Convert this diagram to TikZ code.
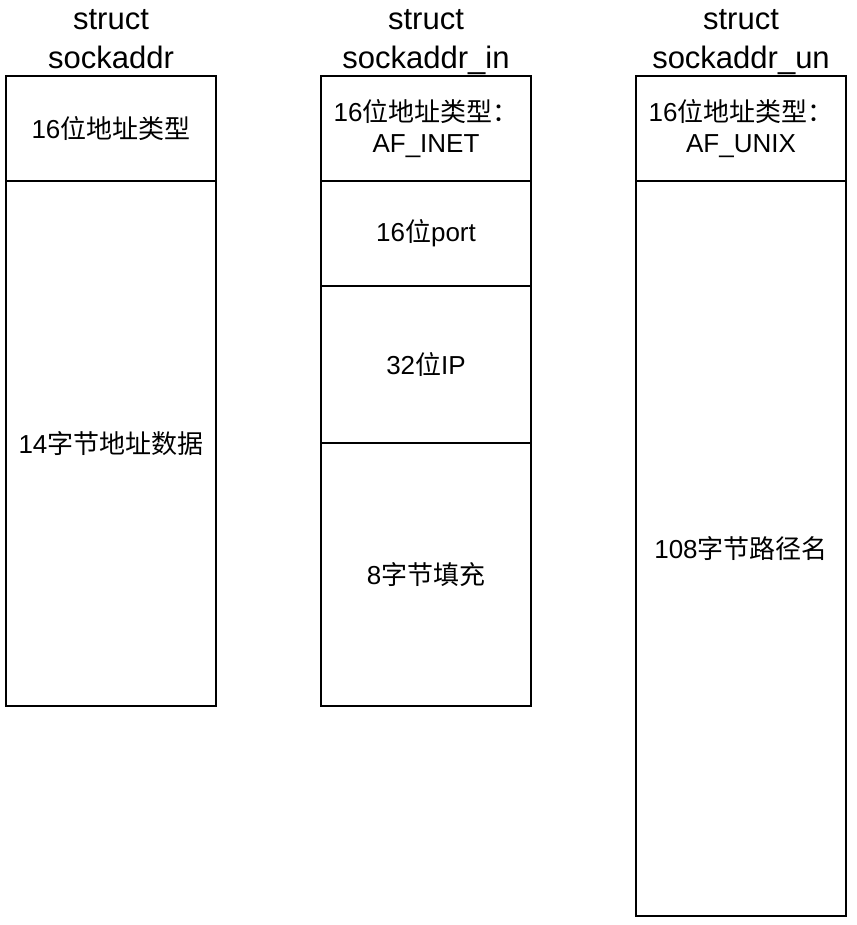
\documentclass[tikz,border=0pt]{standalone}
\usepackage{fontspec}
\setmainfont{Liberation Sans}
\newfontfamily\cjk{Noto Sans CJK SC}
\def\zh#1{{\cjk #1}}
\begin{document}
\begin{tikzpicture}[x=1pt,y=-1pt,
			cell/.style={rectangle,draw,line width=2pt,minimum width=210pt,align=center,font=\fontsize{26}{31}\selectfont},
			title/.style={align=center,text depth=8pt,font=\fontsize{31}{39}\selectfont},
			inner sep=0pt]
			\useasboundingbox (0,0) rectangle (856,925);
			% struct sockaddr
			\node [title] (saT) at (111,43) {struct\\sockaddr};
			\node [cell,minimum height=105pt] (saFam) at (111,128.5) {16\zh{位地址类型}};
			\node [cell,minimum height=525pt] (saData) at (111,443.5) {14\zh{字节地址数据}};
			% struct sockaddr_in
			\node [title] (inT) at (426,43) {struct\\sockaddr\_in};
			\node [cell,minimum height=105pt] (inFam) at (426,128.5) {16\zh{位地址类型：}\\AF\_INET};
			\node [cell,minimum height=105pt] (inPort) at (426,233.5) {16\zh{位}port};
			\node [cell,minimum height=157pt] (inAddr) at (426,364.5) {32\zh{位}IP};
			\node [cell,minimum height=263pt] (inZero) at (426,574.5) {8\zh{字节填充}};
			% struct sockaddr_un
			\node [title] (unT) at (741,43) {struct\\sockaddr\_un};
			\node [cell,minimum height=105pt] (unFam) at (741,128.5) {16\zh{位地址类型：}\\AF\_UNIX};
			\node [cell,minimum height=735pt] (unPath) at (741,548.5) {108\zh{字节路径名}};
		\end{tikzpicture}
\end{document}
